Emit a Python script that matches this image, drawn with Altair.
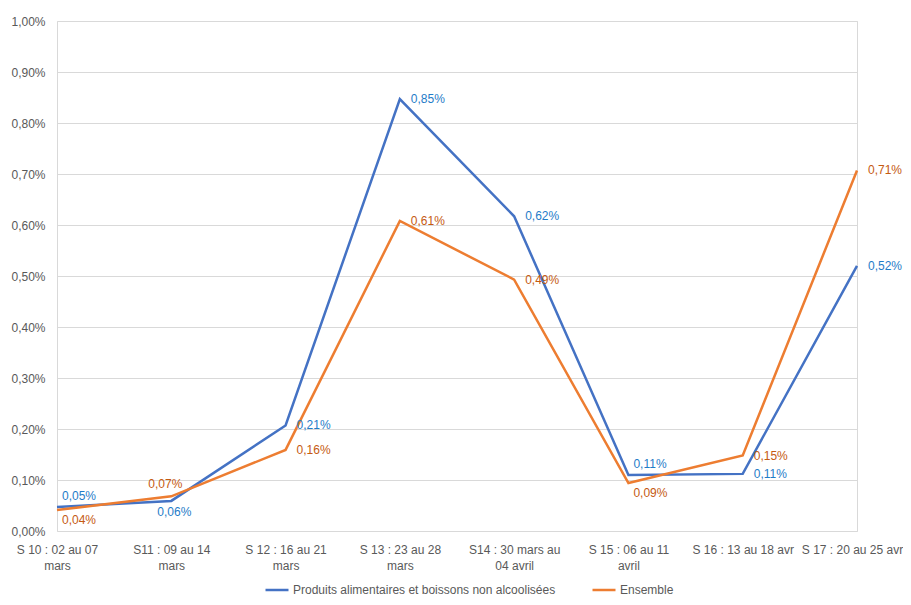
import altair as alt
import pandas as pd

weeks = ["S 10 : 02 au 07\nmars", "S11 : 09 au 14\nmars", "S 12 : 16 au 21\nmars",
         "S 13 : 23 au 28\nmars", "S14 : 30 mars au\n04 avril", "S 15 : 06 au 11\navril",
         "S 16 : 13 au 18 avr", "S 17 : 20 au 25 avr"]
series = ["Produits alimentaires et boissons non alcoolisées", "Ensemble"]
alim = [0.047, 0.059, 0.207, 0.847, 0.617, 0.110, 0.112, 0.520]
ens = [0.041, 0.068, 0.159, 0.608, 0.493, 0.094, 0.148, 0.707]
alim_pos = ["ar", "b", "r", "r", "r", "ar", "r", "r"]
ens_pos = ["br", "a", "r", "r", "r", "br", "r", "r"]

rows = []
for i, w in enumerate(weeks):
    rows.append({"week": w, "serie": series[0], "value": alim[i], "pos": alim_pos[i], "order": i})
    rows.append({"week": w, "serie": series[1], "value": ens[i], "pos": ens_pos[i], "order": i})
df = pd.DataFrame(rows)

BLUE, ORANGE = "#4472c4", "#ed7d31"
LBLUE, LORANGE = "#1f7cc8", "#c55a11"
FONT = "Liberation Sans"

x = alt.X("week:N", sort=weeks, scale=alt.Scale(type="point", padding=0),
          axis=alt.Axis(title=None, labelAngle=0, domain=False, ticks=False, grid=False,
                        labelPadding=13, labelOverlap=False, labelLineHeight=16, labelBound=False,
                        labelOffset={"condition": {"test": f"datum.value === '{weeks[-1]}'", "value": -5},
                                     "value": 0},
                        labelExpr="split(datum.label, '\\n')"))
y = alt.Y("value:Q", scale=alt.Scale(domain=[0, 1], nice=False),
          axis=alt.Axis(title=None, values=[i / 10 for i in range(11)], domain=False, ticks=False,
                        labelPadding=12, gridColor="#d9d9d9",
                        labelExpr="replace(format(datum.value, '.2f'), '.', ',') + '%'"))

base = alt.Chart(df)

lines = base.mark_line(strokeWidth=2.5).encode(
    x=x, y=y,
    color=alt.Color("serie:N", scale=alt.Scale(domain=series, range=[BLUE, ORANGE]),
                    legend=alt.Legend(title=None, orient="none", legendX=207, legendY=556,
                                      direction="horizontal", symbolType="stroke",
                                      symbolStrokeWidth=2.5, symbolSize=529, labelOffset=3,
                                      columnPadding=31, padding=0, labelLimit=600)),
    order="order:Q",
)

txtcolor = alt.condition(alt.datum.serie == "Ensemble", alt.value(LORANGE), alt.value(LBLUE))

placements = {
    "r": dict(align="left", baseline="middle", dx=11, dy=0),
    "ar": dict(align="left", baseline="middle", dx=5, dy=-11),
    "br": dict(align="left", baseline="middle", dx=5, dy=10),
    "a": dict(align="center", baseline="middle", dx=-6, dy=-12),
    "b": dict(align="center", baseline="middle", dx=3, dy=11),
}

layers = [lines]
for code, p in placements.items():
    layers.append(
        base.transform_filter(alt.datum.pos == code)
        .transform_calculate(label="replace(format(datum.value, '.2f'), '.', ',') + '%'")
        .mark_text(font=FONT, fontSize=12, **p)
        .encode(x=x, y=y, text="label:N", color=txtcolor)
    )

chart = alt.layer(*layers).properties(
    width=800, height=510,
    autosize=alt.AutoSizeParams(type="none"),
    padding={"left": 49, "top": 13, "right": 46, "bottom": 66},
    background="white",
).configure_view(stroke="#d9d9d9", strokeWidth=1).configure_axis(
    labelFont=FONT, labelFontSize=12, labelColor="#595959"
).configure_legend(labelFont=FONT, labelFontSize=12, labelColor="#595959")

chart.save("out.html", embed_options={"renderer": "svg", "actions": False})
